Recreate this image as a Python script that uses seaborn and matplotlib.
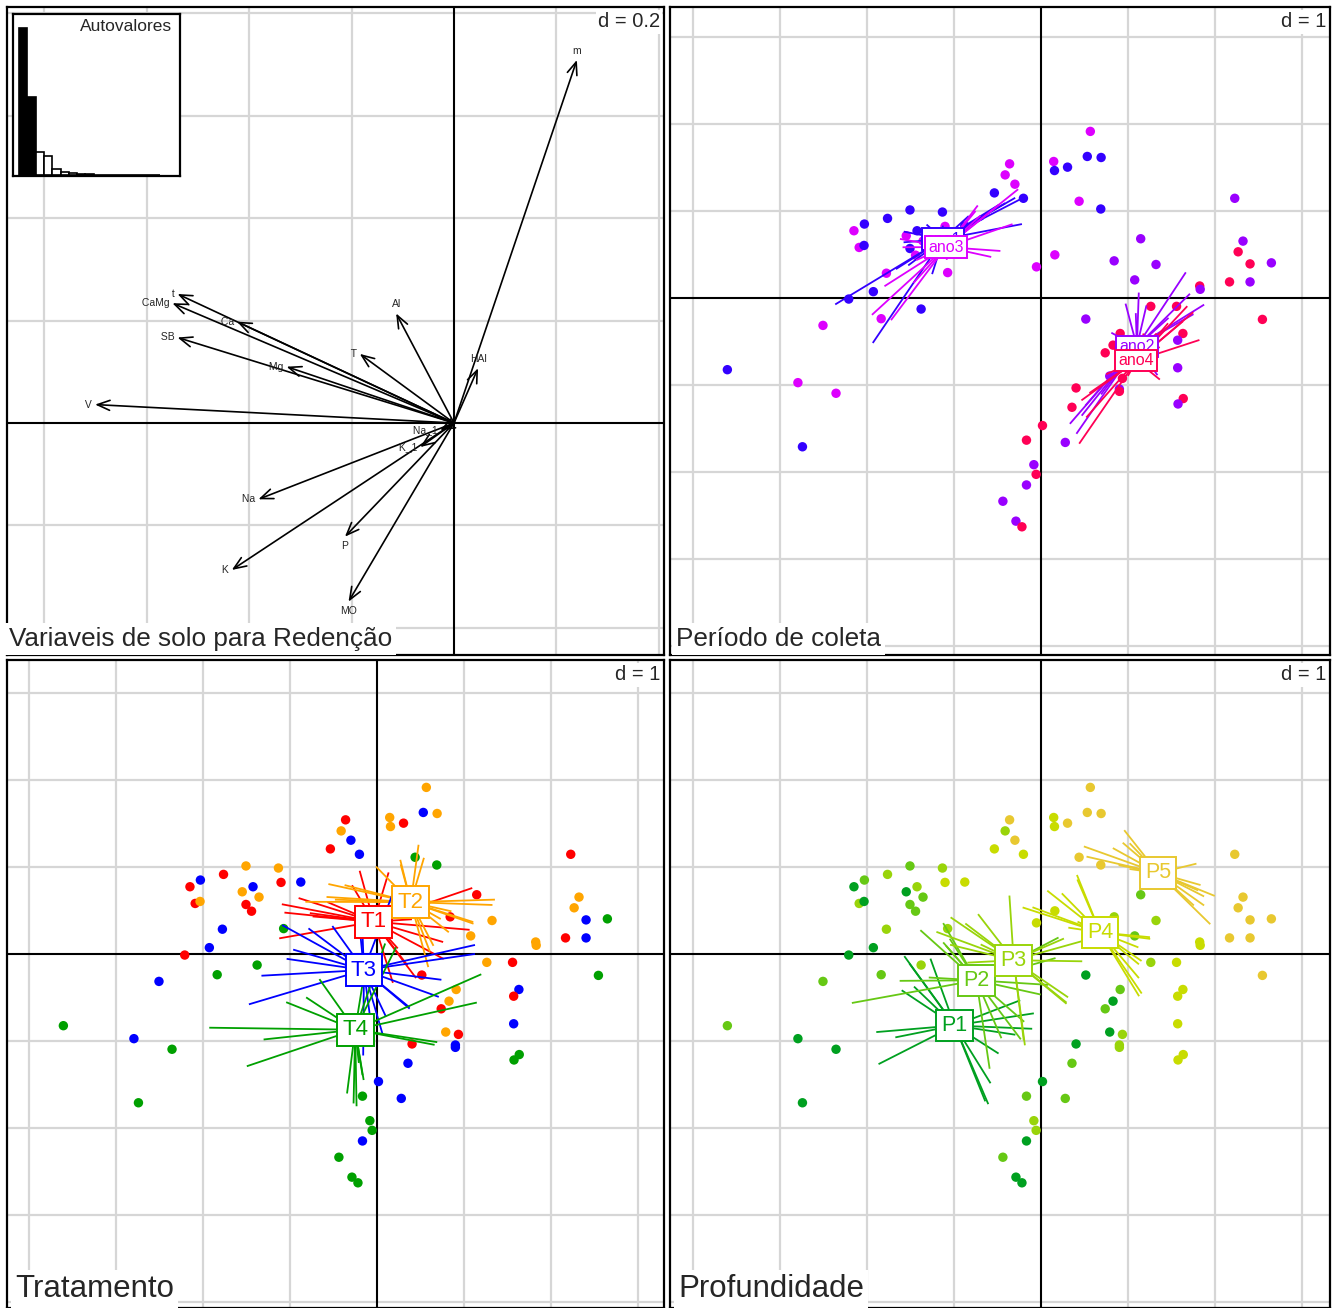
import numpy as np
import pandas as pd
import matplotlib
matplotlib.use("Agg")
import matplotlib.pyplot as plt
import seaborn as sns
from matplotlib.collections import LineCollection

sns.set_style("white")
plt.rcParams["font.family"] = ["Liberation Sans", "DejaVu Sans"]

# ---------------- data ----------------
# PCA row scores (axis 1, axis 2)
score_x = [0.567, 0.532, 0.691, 0.146, 0.155, 0.305, -0.361, -0.412, -0.300, -0.536,
           -0.202, 0.438, 0.687, 2.227, -1.506, -1.133, -1.764, -2.030, -2.150, -1.425,
           -1.103, -0.876, -1.549, -1.356, -2.090, -2.034, -1.506, -1.442, 1.146, 2.322,
           2.266, 0.841, 1.322, 2.403, 2.648, -1.777, -1.073, 1.077, 1.824, 2.167,
           2.403, -1.927, -2.210, -1.378, -1.837, 1.262, 1.558, 2.545, 0.515, -2.506,
           0.159, -0.052, 1.631, 1.571, 0.910, 0.828, 0.738, -3.605, -2.794, -2.356,
           0.790, 0.936, 0.403, 0.901, 0.901, 1.571, 1.635, 1.575, 0.356, 0.017,
           -2.742, -0.167, 0.279, -0.082, -0.056, -0.167, -0.438, -0.288, -0.219, 1.830]
score_y = [1.915, 1.627, 1.615, 1.569, 1.465, 1.504, 1.542, 1.415, 1.308, 1.208,
           1.146, 1.112, 1.023, 1.146, 1.012, 0.988, 0.915, 0.850, 0.773, 0.773,
           0.823, 0.827, 0.715, 0.654, 0.581, 0.604, 0.569, 0.492, 0.681, 0.654,
           0.531, 0.427, 0.385, 0.392, 0.404, 0.285, 0.292, 0.208, 0.138, 0.185,
           0.185, 0.073, -0.012, -0.127, -0.238, -0.096, -0.096, -0.246, -0.242, -0.315,
           0.496, 0.358, -0.408, -0.485, -0.408, -0.542, -0.630, -0.824, -0.973, -1.095,
           -0.897, -0.924, -1.034, -1.046, -1.073, -0.802, -1.156, -1.218, -1.256, -1.466,
           -1.710, -1.634, -1.660, -1.916, -2.027, -2.149, -2.336, -2.565, -2.630, 0.100]
ano = [3, 1, 1, 3, 1, 1, 3, 3, 3, 1, 1, 3, 1, 2, 1, 1, 1, 1, 3, 1,
       3, 1, 3, 3, 3, 1, 1, 3, 2, 2, 4, 2, 2, 4, 2, 3, 3, 2, 4, 4,
       2, 1, 1, 1, 3, 4, 4, 4, 2, 3, 3, 3, 4, 2, 4, 4, 4, 1, 3, 3,
       2, 4, 4, 2, 4, 2, 4, 2, 4, 4, 1, 4, 2, 2, 4, 2, 2, 2, 4, 2]
trat = [2, 3, 2, 2, 2, 1, 1, 2, 3, 1, 3, 4, 4, 1, 2, 2, 1, 3, 1, 3,
        1, 3, 2, 2, 1, 2, 1, 1, 1, 2, 2, 1, 2, 3, 4, 3, 4, 2, 2, 1,
        3, 3, 1, 4, 4, 2, 1, 4, 1, 3, 2, 4, 3, 1, 2, 2, 1, 4, 3, 4,
        2, 1, 1, 3, 3, 3, 4, 4, 3, 3, 4, 4, 3, 4, 4, 3, 4, 4, 4, 2]
prof = [5, 5, 5, 4, 4, 5, 5, 3, 5, 4, 4, 5, 5, 5, 2, 3, 3, 2, 1, 3,
        4, 4, 1, 2, 3, 1, 2, 2, 2, 5, 5, 3, 3, 5, 5, 3, 3, 2, 4, 5,
        5, 1, 1, 3, 2, 3, 4, 5, 1, 2, 4, 4, 4, 4, 2, 1, 2, 2, 1, 1,
        1, 3, 1, 3, 3, 4, 4, 4, 2, 1, 1, 2, 2, 3, 3, 1, 2, 1, 1, 4]

# variable loadings (correlation circle)
var_names = ["t", "CaMg", "Ca", "SB", "Mg", "T", "Al", "HAl", "m", "V",
             "Na", "K", "P", "MO", "Na_1", "K_1"]
var_x = [-0.540, -0.550, -0.424, -0.540, -0.327, -0.184, -0.113, 0.047, 0.240, -0.701,
         -0.382, -0.434, -0.213, -0.206, -0.027, -0.066]
var_y = [0.252, 0.234, 0.198, 0.167, 0.110, 0.135, 0.214, 0.107, 0.709, 0.036,
         -0.149, -0.287, -0.222, -0.349, -0.014, -0.047]

# eigenvalues (relative heights)
eigen = [147.3, 78.3, 23.3, 19.0, 6.0, 3.3, 2.3, 1.0, 0.6, 0.35, 0.2, 0.12, 0.07, 0.04, 0.02, 0.01, 0.005]

ano_levels = ["ano1", "ano2", "ano3", "ano4"]
ano_colors = ["#3300FF", "#9900FF", "#DD00FF", "#FF0055"]
trat_levels = ["T1", "T2", "T3", "T4"]
trat_colors = ["#FF0000", "#FFA500", "#0000FF", "#00A000"]
prof_levels = ["P1", "P2", "P3", "P4", "P5"]
prof_colors = ["#00A020", "#66C814", "#99D40A", "#C8DC00", "#E8C830"]

df = pd.DataFrame({
    "x": score_x, "y": score_y,
    "ano": ["ano%d" % a for a in ano],
    "trat": ["T%d" % t for t in trat],
    "prof": ["P%d" % p for p in prof],
})

# ---------------- layout ----------------
W, H = 1338, 1308
fig = plt.figure(figsize=(W / 100, H / 100), dpi=100)
GRID_C = "#D6D6D6"


def add_panel(x0, x1, y0, y1, ox, oy, s, d):
    ax = fig.add_axes([x0 / W, 1 - y1 / H, (x1 - x0) / W, (y1 - y0) / H])
    xl = ((x0 - ox) / s, (x1 - ox) / s)
    yl = ((oy - y1) / s, (oy - y0) / s)
    ax.set_xlim(*xl)
    ax.set_ylim(*yl)
    for k in range(int(np.floor(xl[0] / d)), int(np.ceil(xl[1] / d)) + 1):
        if k != 0:
            ax.axvline(k * d, color=GRID_C, lw=1.6, zorder=0)
    for k in range(int(np.floor(yl[0] / d)), int(np.ceil(yl[1] / d)) + 1):
        if k != 0:
            ax.axhline(k * d, color=GRID_C, lw=1.6, zorder=0)
    ax.axhline(0, color="black", lw=1.5, zorder=1)
    ax.axvline(0, color="black", lw=1.5, zorder=1)
    ax.set_xticks([])
    ax.set_yticks([])
    ax.set_xlabel("")
    ax.set_ylabel("")
    for sp in ax.spines.values():
        sp.set_visible(True)
        sp.set_color("black")
        sp.set_linewidth(1.6)
    ax.text(0.994, 0.992, "d = %g" % d, transform=ax.transAxes, ha="right", va="top",
            fontsize=14.5, zorder=6,
            bbox=dict(boxstyle="square,pad=0.12", fc="white", ec="none"))
    return ax


def title(ax, txt, fs, xoff):
    ax.text(xoff, 0.006, txt, transform=ax.transAxes, ha="left", va="bottom",
            fontsize=fs, zorder=6,
            bbox=dict(boxstyle="square,pad=0.14", fc="white", ec="none"))


def class_panel(ax, col, levels, colors, fs, pad):
    pal = dict(zip(levels, colors))
    sns.scatterplot(data=df, x="x", y="y", hue=col, hue_order=levels, palette=pal,
                    s=46, linewidth=0, legend=False, ax=ax, zorder=2)
    ax.set_xlabel("")
    ax.set_ylabel("")
    cent = df.groupby(col)[["x", "y"]].mean()
    for lev in levels:
        c = cent.loc[lev].values
        pts = df.loc[df[col] == lev, ["x", "y"]].values
        segs = [[c, c + 0.5 * (p - c)] for p in pts]
        ax.add_collection(LineCollection(segs, colors=pal[lev], linewidths=1.3, zorder=3))
    for lev in levels:
        c = cent.loc[lev].values
        ax.text(c[0], c[1], lev, ha="center", va="center", color=pal[lev], fontsize=fs,
                zorder=5, bbox=dict(boxstyle="square,pad=%g" % pad, fc="white",
                                    ec=pal[lev], lw=1.4))


# ---- top-left: correlation circle ----
ax1 = add_panel(7, 664, 7, 655, 454, 423, 512.0, 0.2)
for nm, vx, vy in zip(var_names, var_x, var_y):
    ax1.annotate("", xy=(vx, vy), xytext=(0, 0), zorder=3,
                 arrowprops=dict(arrowstyle="->,head_length=0.9,head_width=0.36",
                                 color="black", lw=1.2, shrinkA=0, shrinkB=0,
                                 mutation_scale=10))
    # ade4-like label placement around the arrow tip
    if abs(vx) >= abs(vy):
        if vx < 0:
            ax1.annotate(" %s " % nm, xy=(vx, vy), xytext=(0, 0), textcoords="offset points",
                         ha="right", va="center", fontsize=7.5, zorder=4)
        else:
            ax1.annotate(" %s " % nm, xy=(vx, vy), xytext=(0, 0), textcoords="offset points",
                         ha="left", va="center", fontsize=7.5, zorder=4)
    else:
        off = 6.5 if vy > 0 else -6.5
        ax1.annotate(nm, xy=(vx, vy), xytext=(0, off), textcoords="offset points",
                     ha="center", va="center", fontsize=7.5, zorder=4)
title(ax1, "Variaveis de solo para Redenção", 18.8, 0.003)

# eigenvalue inset
axe = fig.add_axes([13 / W, 1 - 176 / H, (180 - 13) / W, (176 - 14) / H])
idx = list(range(len(eigen)))
bar_cols = ["black" if i < 2 else "white" for i in idx]
sns.barplot(x=idx, y=eigen, hue=idx, palette=bar_cols, width=1.0, edgecolor="black",
            linewidth=1.2, legend=False, ax=axe, zorder=2)
axe.set_xlim(-0.5 - 6 / 8.3, -0.5 - 6 / 8.3 + 167 / 8.3)
axe.set_ylim(-1, 161)
axe.set_xticks([])
axe.set_yticks([])
axe.set_xlabel("")
axe.set_ylabel("")
axe.set_facecolor("white")
for sp in axe.spines.values():
    sp.set_visible(True)
    sp.set_color("black")
    sp.set_linewidth(1.6)
axe.text(0.955, 0.97, "Autovalores", transform=axe.transAxes, ha="right", va="top",
         fontsize=12.5)

# ---- top-right: year ----
ax2 = add_panel(670, 1330, 7, 655, 1041, 298, 87.0, 1)
class_panel(ax2, "ano", ano_levels, ano_colors, 11.5, 0.2)
title(ax2, "Período de coleta", 18.8, 0.009)

# ---- bottom-left: treatment ----
ax3 = add_panel(7, 664, 660, 1308, 377, 954, 87.0, 1)
class_panel(ax3, "trat", trat_levels, trat_colors, 16, 0.24)
title(ax3, "Tratamento", 22.5, 0.012)

# ---- bottom-right: depth ----
ax4 = add_panel(670, 1330, 660, 1308, 1041, 954, 87.0, 1)
class_panel(ax4, "prof", prof_levels, prof_colors, 15.5, 0.24)
title(ax4, "Profundidade", 22.5, 0.012)

fig.savefig("out.png", dpi=100, facecolor="white")
